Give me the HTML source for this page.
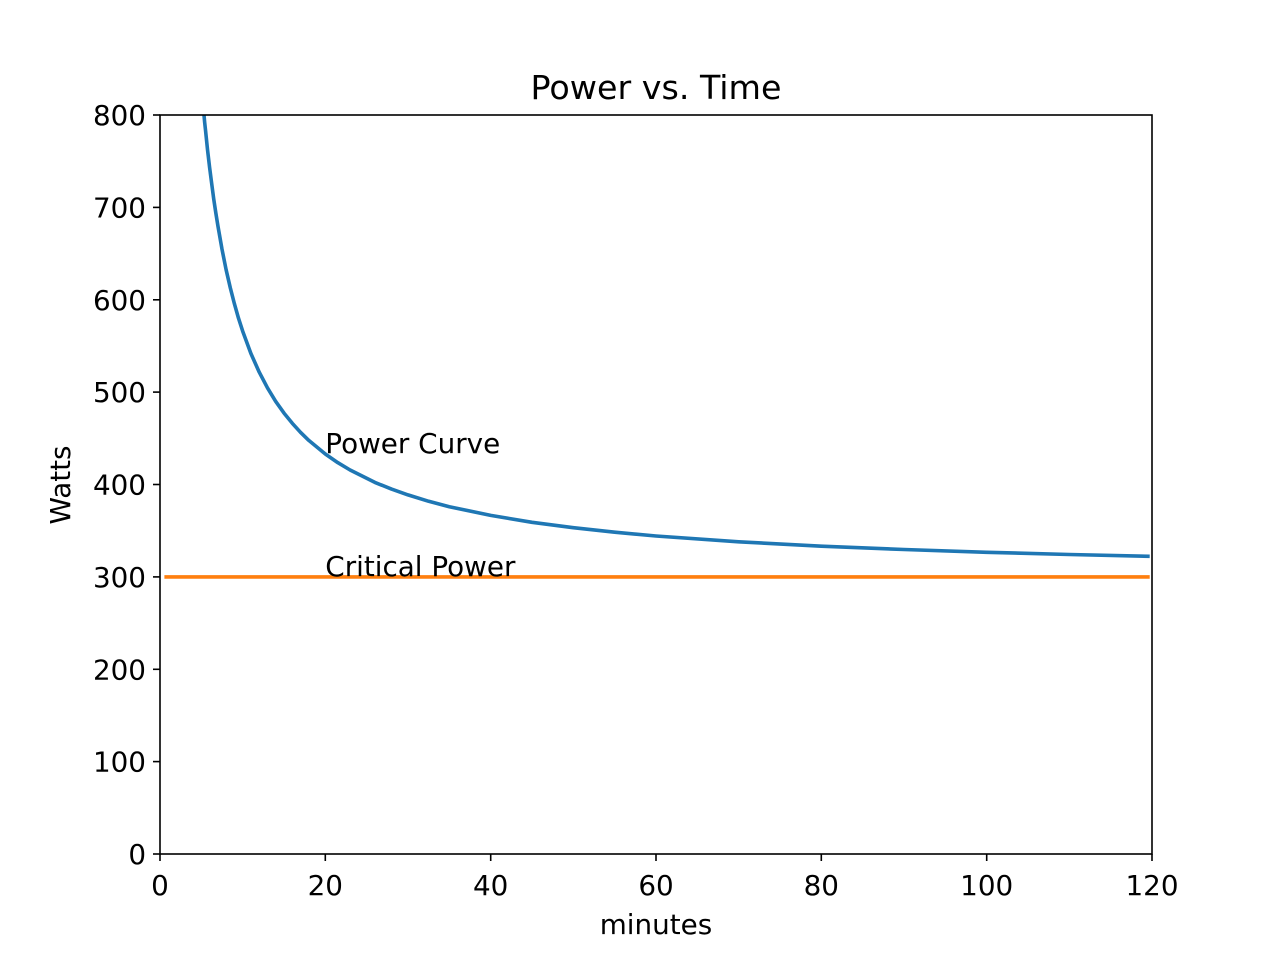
<!DOCTYPE html>
<html><head><style>body{margin:0;background:#fff}svg{display:block}text{font-family:"DejaVu Sans","Liberation Sans",sans-serif;fill:#000}</style></head>
<body>
<svg width="1280" height="960" viewBox="0 0 1280 960" xmlns="http://www.w3.org/2000/svg">
<rect width="1280" height="960" fill="#fff"/>
<defs><clipPath id="c"><rect x="160" y="115" width="992" height="739"/></clipPath></defs>
<g clip-path="url(#c)" fill="none" stroke-width="3.6" stroke-linecap="square" stroke-linejoin="round">
<polyline stroke="#1f77b4" points="204,115 204.6,121.8 205.5,130.1 207.5,149.6 209.6,167.4 211.7,183.7 213.7,198.9 215.8,212.8 217.9,225.8 222,249.2 226.1,269.7 230.3,287.8 234.4,303.8 238.5,318.2 242.7,331.2 250.9,353.5 259.2,372.1 267.5,387.9 275.7,401.4 284,413.1 292.3,423.3 300.5,432.3 308.8,440.4 325.3,454 337.7,462.6 350.1,470 374.9,482.4 391.5,489.1 408,494.9 428.7,501.3 449.3,506.7 490.7,515.4 532,522.3 573.3,527.7 614.7,532.2 656,536 738.7,541.8 821.3,546.2 904,549.5 986.7,552.3 1069.3,554.5 1147.9,556.3"/>
<line stroke="#ff7f0e" x1="166.2" y1="576.9" x2="1147.9" y2="576.9"/>
</g>
<rect x="160" y="115" width="992" height="739" fill="none" stroke="#000" stroke-width="1.6"/>
<g stroke="#000" stroke-width="1.6">
<line x1="160" y1="854" x2="160" y2="861"/><line x1="325.3" y1="854" x2="325.3" y2="861"/><line x1="490.7" y1="854" x2="490.7" y2="861"/><line x1="656" y1="854" x2="656" y2="861"/><line x1="821.3" y1="854" x2="821.3" y2="861"/><line x1="986.7" y1="854" x2="986.7" y2="861"/><line x1="1152" y1="854" x2="1152" y2="861"/>
<line x1="153" y1="854" x2="160" y2="854"/><line x1="153" y1="761.6" x2="160" y2="761.6"/><line x1="153" y1="669.3" x2="160" y2="669.3"/><line x1="153" y1="576.9" x2="160" y2="576.9"/><line x1="153" y1="484.5" x2="160" y2="484.5"/><line x1="153" y1="392.1" x2="160" y2="392.1"/><line x1="153" y1="299.8" x2="160" y2="299.8"/><line x1="153" y1="207.4" x2="160" y2="207.4"/><line x1="153" y1="115" x2="160" y2="115"/>
</g>
<g font-size="27.8" text-anchor="middle">
<text x="160" y="895">0</text><text x="325.3" y="895">20</text><text x="490.7" y="895">40</text><text x="656" y="895">60</text><text x="821.3" y="895">80</text><text x="986.7" y="895">100</text><text x="1152" y="895">120</text>
</g>
<g font-size="27.8" text-anchor="end">
<text x="146" y="864">0</text><text x="146" y="771.6">100</text><text x="146" y="679.3">200</text><text x="146" y="586.9">300</text><text x="146" y="494.5">400</text><text x="146" y="402.1">500</text><text x="146" y="309.8">600</text><text x="146" y="217.4">700</text><text x="146" y="125">800</text>
</g>
<text x="656" y="934" font-size="27.8" text-anchor="middle">minutes</text>
<text transform="translate(70,485) rotate(-90)" font-size="27.8" text-anchor="middle">Watts</text>
<text x="656" y="99" font-size="33.3" text-anchor="middle">Power vs. Time</text>
<text x="325.3" y="453" font-size="27.8">Power Curve</text>
<text x="325.3" y="576" font-size="27.8">Critical Power</text>
</svg>
</body></html>
